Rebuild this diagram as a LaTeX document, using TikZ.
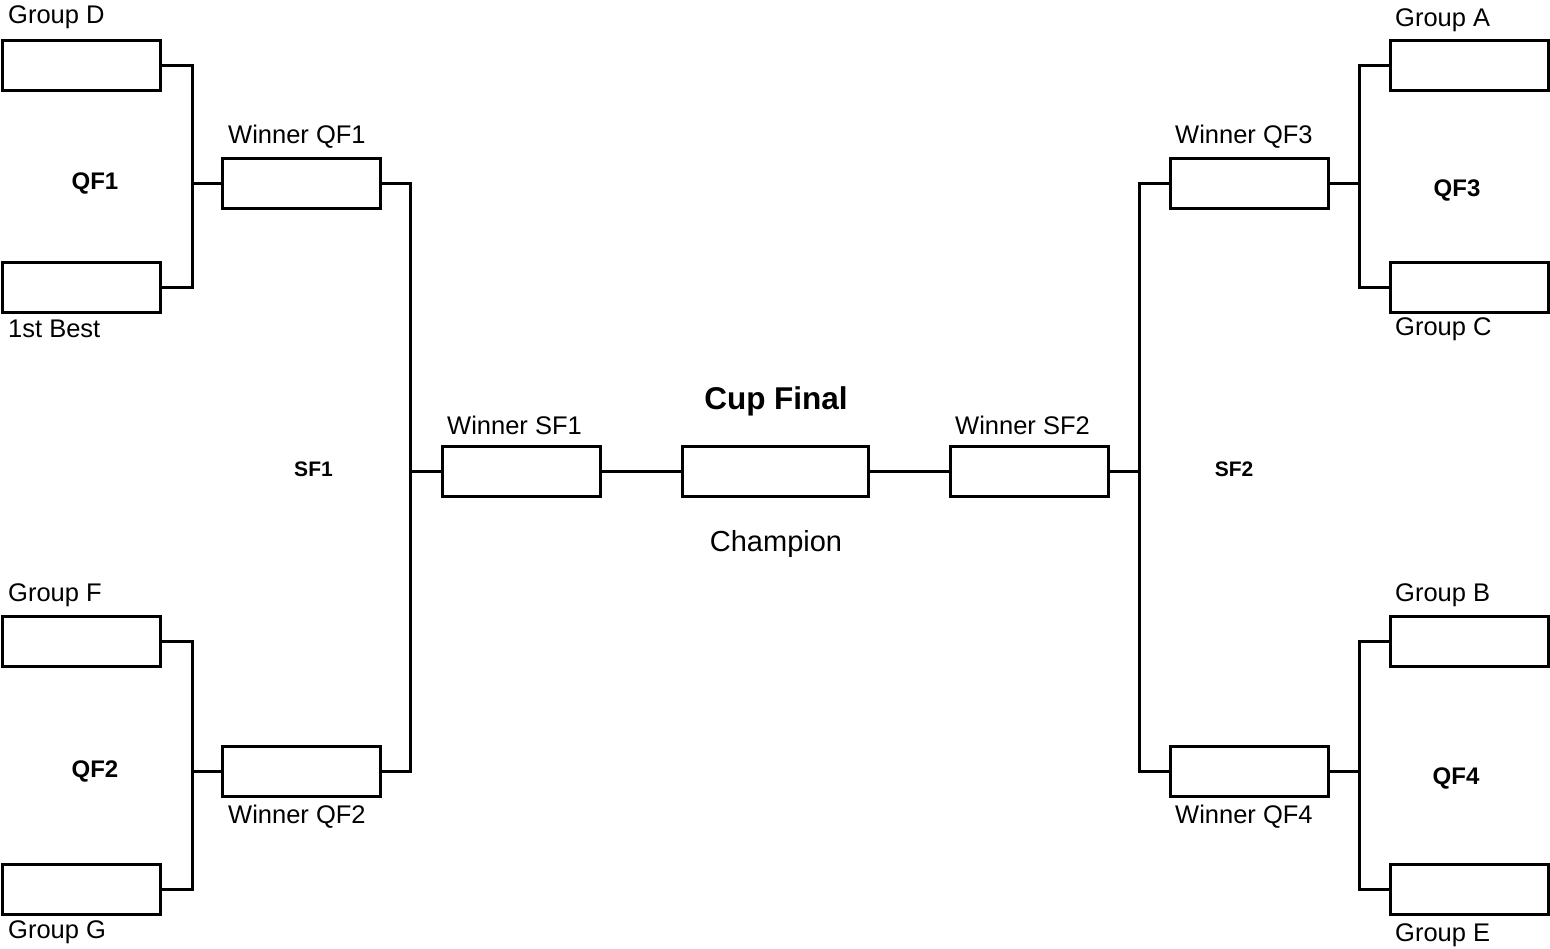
\documentclass[tikz,border=0pt]{standalone}
\usepackage{fontspec}
\setmainfont{Liberation Sans}
\begin{document}
\begin{tikzpicture}[x=1pt,y=-1pt,
  box/.style={draw,line width=3pt,minimum width=158pt,minimum height=50pt,inner sep=0pt,outer sep=0pt},
  wide/.style={box,minimum width=186pt},
  lab/.style={anchor=west,inner sep=0pt,font=\fontsize{25.5}{30}\selectfont},
  rnd/.style={inner sep=0pt,font=\fontsize{24}{28}\selectfont\bfseries},
  conn/.style={line width=3pt,line cap=rect}]
\useasboundingbox (0,0) rectangle (1550,948);
% boxes
\node[box] (gD) at (81,65) {};
\node[box] (best) at (81,287) {};
\node[box] (gF) at (81,641) {};
\node[box] (gG) at (81,889) {};
\node[box] (wqf1) at (301.5,183) {};
\node[box] (wqf2) at (301.5,771) {};
\node[box] (wsf1) at (521.5,471) {};
\node[wide] (final) at (775.5,471) {};
\node[box] (wsf2) at (1029,471) {};
\node[box] (wqf3) at (1249.5,183) {};
\node[box] (wqf4) at (1249.5,771) {};
\node[box] (gA) at (1469,65) {};
\node[box] (gC) at (1469,287) {};
\node[box] (gB) at (1469,641) {};
\node[box] (gE) at (1469,889) {};
% junctions
\coordinate (j1) at (192,183);
\coordinate (j2) at (192,771);
\coordinate (j3) at (1359,183);
\coordinate (j4) at (1359,771);
\coordinate (j5) at (410,471);
\coordinate (j6) at (1139,471);
% connectors
\draw[conn] (gD.east) -| (j1) |- (best.east);
\draw[conn] (j1) -- (wqf1.west);
\draw[conn] (gF.east) -| (j2) |- (gG.east);
\draw[conn] (j2) -- (wqf2.west);
\draw[conn] (wqf1.east) -| (j5) |- (wqf2.east);
\draw[conn] (j5) -- (wsf1.west);
\draw[conn] (wsf1.east) -- (final.west);
\draw[conn] (final.east) -- (wsf2.west);
\draw[conn] (wqf3.west) -| (j6) |- (wqf4.west);
\draw[conn] (j6) -- (wsf2.east);
\draw[conn] (gA.west) -| (j3) |- (gC.west);
\draw[conn] (j3) -- (wqf3.east);
\draw[conn] (gB.west) -| (j4) |- (gE.west);
\draw[conn] (j4) -- (wqf4.east);
% labels
\node[lab] (tD) at (8,17) {Group D};
\node[lab] (tBest) at (8,329) {1st Best};
\node[lab] (tF) at (8,595) {Group F};
\node[lab] (tG) at (8,932) {Group G};
\node[lab] (tW1) at (228,137) {Winner QF1};
\node[lab] (tW2) at (228,817) {Winner QF2};
\node[lab] (tS1) at (447,425) {Winner SF1};
\node[lab] (tS2) at (955,425) {Winner SF2};
\node[lab] (tW3) at (1175,137) {Winner QF3};
\node[lab] (tW4) at (1175,817) {Winner QF4};
\node[lab] (tA) at (1395,20) {Group A};
\node[lab] (tC) at (1395,329) {Group C};
\node[lab] (tB) at (1395,595) {Group B};
\node[lab] (tE) at (1395,935) {Group E};
\node[rnd] (qf1) at (95,183) {QF1};
\node[rnd] (qf2) at (95,771) {QF2};
\node[rnd] (qf3) at (1457,190) {QF3};
\node[rnd] (qf4) at (1456,778) {QF4};
\node[rnd,font=\fontsize{21}{25}\selectfont\bfseries] (sf1) at (313.5,469) {SF1};
\node[rnd,font=\fontsize{21}{25}\selectfont\bfseries] (sf2) at (1234,469) {SF2};
\node[rnd,font=\fontsize{31.5}{36}\selectfont\bfseries] (cup) at (776,401) {Cup Final};
\node[inner sep=0pt,font=\fontsize{29}{34}\selectfont] (champ) at (776,544) {Champion};
\end{tikzpicture}
\end{document}
